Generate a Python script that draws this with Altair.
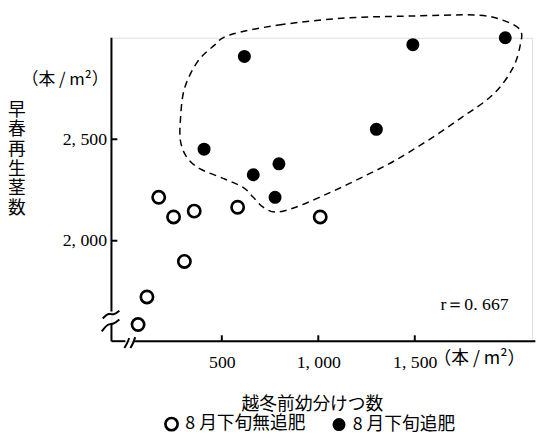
import altair as alt
import pandas as pd

# ---- data ----
open_x = [173, 250, 357, 582, 1010, 306, 112, 66]
open_y = [2214, 2117, 2146, 2165, 2117, 1898, 1723, 1587]
fill_x = [617, 1490, 1969, 1301, 408, 796, 663, 776]
fill_y = [2908, 2966, 3000, 2549, 2451, 2379, 2325, 2214]

g_open = "8 月下旬無追肥"
g_fill = "8 月下旬追肥"

# dashed outline around the top-dressed group
hull_x = [541, 796, 1138, 1480, 1816, 1954, 2046, 2046, 2005, 1903, 1735, 1561,
          1393, 1224, 1051, 883, 781, 714, 663, 612, 510, 388, 321, 286, 286,
          306, 372, 459]
hull_y = [3014, 3063, 3097, 3107, 3112, 3087, 3039, 2961, 2845, 2718, 2602, 2490,
          2393, 2311, 2233, 2165, 2141, 2165, 2214, 2262, 2306, 2354, 2408, 2490,
          2602, 2748, 2879, 2961]

x_ticks = [500, 1000, 1500]
y_ticks = [2000, 2500]

# axis line pieces (with breaks) and break marks
xaxis_seg = {"x": [-72, 46], "x2": [0, 2125], "y": [1505, 1505]}
break_marks = {
    "id": ["a"] * 4 + ["b"] * 4 + ["c"] * 3 + ["d"] * 3,
    "o": [0, 1, 2, 3, 0, 1, 2, 3, 0, 1, 2, 0, 1, 2],
    "x": [-117, -87, -61, -31, -122, -92, -61, -31, -5, 10, 20, 26, 41, 51],
    "y": [1617, 1646, 1631, 1655, 1553, 1592, 1587, 1612, 1471, 1495, 1520, 1471, 1495, 1525],
}

W, H = 427, 308
serif = "Liberation Serif"
jp = "Noto Sans CJK JP"

xscale = alt.Scale(domain=[-72, 2108], nice=False, zero=False)
yscale = alt.Scale(domain=[1505, 3000], nice=False, zero=False)
lab_expr = "replace(format(datum.value, ','), ',', ', ')"
xaxis = alt.Axis(values=x_ticks, domain=False, ticks=False, grid=False,
                 labelExpr=lab_expr, labelFont=serif, labelFontSize=18,
                 labelColor="black", labelPadding=13, title=None)
yaxis = alt.Axis(values=y_ticks, domain=False, ticks=False, grid=False,
                 labelExpr=lab_expr, labelFont=serif, labelFontSize=18,
                 labelColor="black", labelPadding=5, title=None)


def X(f):
    return alt.X(f, type="quantitative", scale=xscale, axis=xaxis)


def Y(f):
    return alt.Y(f, type="quantitative", scale=yscale, axis=yaxis)


pts = pd.DataFrame({
    "x": open_x + fill_x,
    "y": open_y + fill_y,
    "g": [g_open] * len(open_x) + [g_fill] * len(fill_x),
})

leg = alt.Legend(title=None, orient="none", direction="horizontal",
                 legendX=52, legendY=383, labelFont=jp, labelFontSize=18,
                 labelColor="black", labelOffset=5, columnPadding=22,
                 padding=0, symbolStrokeWidth=2.7)
gscale_fill = alt.Scale(domain=[g_open, g_fill], range=["white", "black"])
gscale_stroke = alt.Scale(domain=[g_open, g_fill], range=["black", "black"])
gscale_size = alt.Scale(domain=[g_open, g_fill], range=[155, 110])

points = alt.Chart(pts).mark_point(shape="circle", filled=True,
                                    strokeWidth=2.7, opacity=1).encode(
    x=X("x"), y=Y("y"),
    fill=alt.Fill("g:N", scale=gscale_fill, legend=leg),
    stroke=alt.Stroke("g:N", scale=gscale_stroke, legend=leg),
    size=alt.Size("g:N", scale=gscale_size, legend=leg),
)

hull_df = pd.DataFrame({"x": hull_x, "y": hull_y, "o": list(range(len(hull_x)))})
hull = alt.Chart(hull_df).mark_line(interpolate="cardinal-closed", color="black",
                                    strokeWidth=1.5, strokeDash=[7, 5]).encode(
    x=X("x"), y=Y("y"), order="o:Q")

ya2 = alt.Chart(pd.DataFrame({"x": [-72], "y": [1592], "y2": [1505]})).mark_rule(
    color="black", strokeWidth=2).encode(x=X("x"), y=Y("y"), y2="y2")
ya1 = alt.Chart(pd.DataFrame({"x": [-72], "y": [3000], "y2": [1651]})).mark_rule(
    color="black", strokeWidth=2).encode(x=X("x"), y=Y("y"), y2="y2")
xa = alt.Chart(pd.DataFrame(xaxis_seg)).mark_rule(color="black", strokeWidth=2).encode(
    x=X("x"), x2="x2", y=Y("y"))
brk = alt.Chart(pd.DataFrame(break_marks)).mark_line(color="black", strokeWidth=2,
                                                     interpolate="basis").encode(
    x=X("x"), y=Y("y"), detail="id:N", order="o:Q")

yt = alt.Chart(pd.DataFrame({"v": y_ticks})).mark_rule(color="black", strokeWidth=2).encode(
    y=Y("v"), x=alt.value(0), x2=alt.value(6))
xt = alt.Chart(pd.DataFrame({"v": x_ticks})).mark_rule(color="black", strokeWidth=2).encode(
    x=X("v"), y=alt.value(H), y2=alt.value(H - 6))

unit_x = alt.Chart(pd.DataFrame({"v": [1500]})).mark_text(
    text="（本 / m²）", font=jp, fontSize=18, align="left", baseline="middle", dx=19,
    color="black").encode(x=X("v"), y=alt.value(H + 18))
unit_y = alt.Chart(pd.DataFrame({"v": [0]})).mark_text(
    text="（本 / m²）", font=jp, fontSize=17, align="right", baseline="middle",
    color="black").encode(x=alt.value(-3), y=alt.value(43))
ytitle = alt.Chart(pd.DataFrame({"v": [0]})).mark_text(
    text=["早", "春", "再", "生", "茎", "数"], font=jp, fontSize=18, lineHeight=20,
    align="center", baseline="middle", color="black").encode(
    x=alt.value(-96), y=alt.value(74))
xtitle = alt.Chart(pd.DataFrame({"v": [0]})).mark_text(
    text="越冬前幼分けつ数", font=jp, fontSize=18, align="center", baseline="middle",
    color="black").encode(x=alt.value(204), y=alt.value(373))
rtext = alt.Chart(pd.DataFrame({"v": [0]})).mark_text(
    text="r＝0. 667", font=serif, fontSize=18, align="left", baseline="middle",
    color="black").encode(x=alt.value(334), y=alt.value(271))

chart = alt.layer(hull, ya1, ya2, xa, brk, yt, xt, points, unit_x, unit_y, ytitle,
                  xtitle, rtext).properties(
    width=W, height=H, autosize="none",
    padding={"left": 105, "top": 27, "right": 6, "bottom": 91},
).configure_view(stroke=None).configure(background="white")

chart.save("out.html", embed_options={"renderer": "svg", "actions": False})
